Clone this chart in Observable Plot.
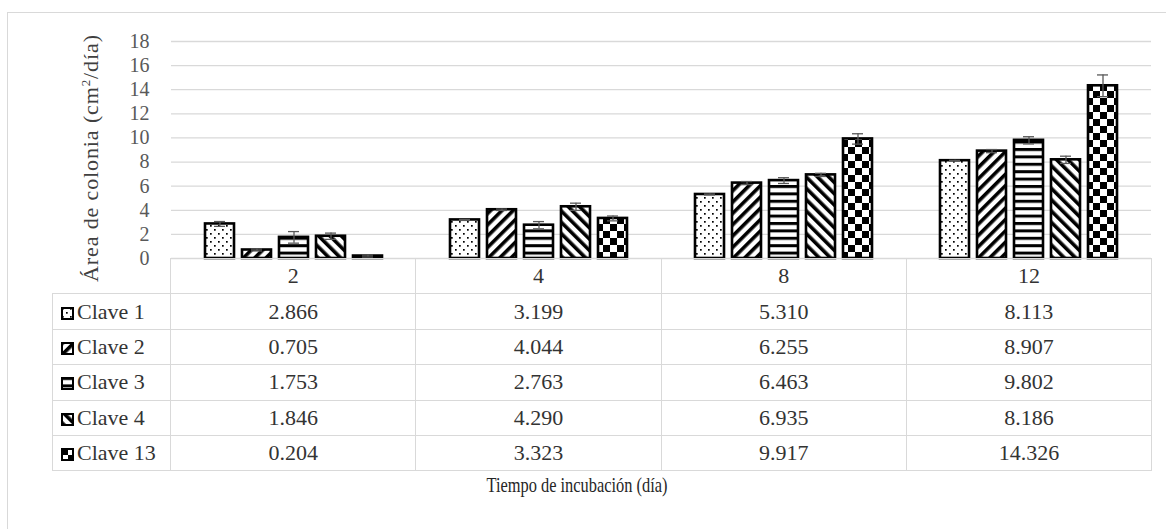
<!DOCTYPE html>
<html><head><meta charset="utf-8">
<script src="https://cdn.jsdelivr.net/npm/d3@7"></script>
<script src="https://cdn.jsdelivr.net/npm/@observablehq/plot@0.6"></script>
<style>
html,body{margin:0;padding:0;background:#fff;width:1166px;height:529px;overflow:hidden;font-family:'Liberation Serif','Times New Roman',Times,serif;}
#wrap{position:relative;width:1166px;height:529px;overflow:hidden;}
#frame{position:absolute;left:7px;top:12px;width:1250px;height:650px;border:1.5px solid #d9d9d9;box-sizing:border-box;}
#chart{position:absolute;left:0;top:0;}
#defs{position:absolute;left:0;top:0;width:0;height:0;}
#tbl{position:absolute;left:52px;top:258px;border-collapse:collapse;table-layout:fixed;width:1099px;font-size:22px;color:#333;font-family:'Liberation Serif','Times New Roman',Times,serif;}
#tbl td{border:1px solid #d9d9d9;padding:0;text-align:center;line-height:1;font-family:'Liberation Serif','Times New Roman',Times,serif;}
#tbl tr{height:35.4px;}
#tbl td.blank{border-top:none;border-left:none;}
#tbl td.lab{text-align:left;padding-left:8px;white-space:nowrap;}
#tbl td.lab svg{vertical-align:-1px;margin-right:3px;}
#titles{position:absolute;left:0;top:0;pointer-events:none;}
#chart svg text{font-family:'Liberation Serif','Times New Roman',Times,serif;}
</style></head>
<body>
<div id="wrap">
  <div id="frame"></div>
  <svg id="defs" width="0" height="0">
    <defs>
      <pattern id="pat1" patternUnits="userSpaceOnUse" width="8" height="8">
        <rect width="8" height="8" fill="#fff"/>
        <rect x="1" y="1" width="1.7" height="1.7" fill="#000"/>
        <rect x="5" y="5" width="1.7" height="1.7" fill="#000"/>
      </pattern>
      <pattern id="pat2" patternUnits="userSpaceOnUse" width="8" height="8" patternTransform="rotate(45)">
        <rect width="8" height="8" fill="#fff"/>
        <rect x="0" y="0" width="3.6" height="8" fill="#000"/>
      </pattern>
      <pattern id="pat3" patternUnits="userSpaceOnUse" width="8" height="7.4">
        <rect width="8" height="7.4" fill="#fff"/>
        <rect x="0" y="0" width="8" height="3" fill="#000"/>
      </pattern>
      <pattern id="pat4" patternUnits="userSpaceOnUse" width="8" height="8" patternTransform="rotate(-45)">
        <rect width="8" height="8" fill="#fff"/>
        <rect x="0" y="0" width="3.6" height="8" fill="#000"/>
      </pattern>
      <pattern id="pat5" patternUnits="userSpaceOnUse" width="14" height="14">
        <rect width="14" height="14" fill="#fff"/>
        <rect x="0" y="0" width="7" height="7" fill="#000"/>
        <rect x="7" y="7" width="7" height="7" fill="#000"/>
      </pattern>
    </defs>
  </svg>
  <div id="chart"></div>
  <table id="tbl"></table>
  <svg id="titles" width="1166" height="529"></svg>
</div>
<script>
// ---- data ----
const categories = [2, 4, 8, 12];
const series = ["Clave 1", "Clave 2", "Clave 3", "Clave 4", "Clave 13"];
const clave1  = [2.866, 3.199, 5.310, 8.113];
const clave2  = [0.705, 4.044, 6.255, 8.907];
const clave3  = [1.753, 2.763, 6.463, 9.802];
const clave4  = [1.846, 4.290, 6.935, 8.186];
const clave13 = [0.204, 3.323, 9.917, 14.326];
const err1  = [0.20, 0.04, 0.04, 0.03];
const err2  = [0.08, 0.06, 0.13, 0.13];
const err3  = [0.48, 0.30, 0.24, 0.30];
const err4  = [0.26, 0.30, 0.13, 0.30];
const err13 = [0.08, 0.20, 0.43, 0.90];
const yTicks = [0, 2, 4, 6, 8, 10, 12, 14, 16, 18];
const patterns = ["url(#pat1)", "url(#pat2)", "url(#pat3)", "url(#pat4)", "url(#pat5)"];
const xTitle = "Tiempo de incubación (día)";

const values = [clave1, clave2, clave3, clave4, clave13];
const errors = [err1, err2, err3, err4, err13];
const data = [];
categories.forEach((c, j) => series.forEach((s, i) => data.push({cat: c, series: s, value: values[i][j], err: errors[i][j]})));

const serif = "'Liberation Serif', 'Times New Roman', Times, serif";

const chart = Plot.plot({
  width: 1166, height: 262,
  marginLeft: 170, marginRight: 15, marginTop: 41, marginBottom: 4,
  style: {fontFamily: serif, fontSize: "20px", background: "transparent", overflow: "visible"},
  fx: {domain: categories, padding: 0, axis: null},
  x: {domain: series, paddingInner: 0.223, paddingOuter: 0.875, axis: null},
  y: {domain: [0, 18]},
  color: {domain: series, range: patterns},
  marks: [
    Plot.ruleY(yTicks, {stroke: "#d9d9d9", strokeWidth: 1.3}),
    Plot.axisY(yTicks, {tickSize: 0, tickPadding: 22, fill: "#595959", label: null, fontSize: 20, fontFamily: serif}),
    Plot.barY(data, {fx: "cat", x: "series", y: "value", fill: "series", stroke: "#000", strokeWidth: 2.6}),
    Plot.ruleX(data, {fx: "cat", x: "series", y1: d => d.value - d.err, y2: d => d.value + d.err, stroke: "#595959", strokeWidth: 1.3}),
    Plot.tickY(data, {fx: "cat", x: "series", y: d => d.value + d.err, insetLeft: 9, insetRight: 9, stroke: "#595959", strokeWidth: 1.3}),
    Plot.tickY(data, {fx: "cat", x: "series", y: d => d.value - d.err, insetLeft: 9, insetRight: 9, stroke: "#595959", strokeWidth: 1.3})
  ]
});
document.getElementById("chart").appendChild(chart);

// ---- data table ----
const tbl = d3.select("#tbl");
const cg = tbl.append("colgroup");
cg.append("col").style("width", "118px");
categories.forEach(() => cg.append("col").style("width", "245.25px"));
const hr = tbl.append("tr");
hr.append("td").attr("class", "blank");
categories.forEach(c => hr.append("td").text(String(c)));
series.forEach((s, i) => {
  const tr = tbl.append("tr");
  const lab = tr.append("td").attr("class", "lab");
  const ic = lab.append("svg").attr("width", 13).attr("height", 13);
  ic.append("rect").attr("x", 1).attr("y", 1).attr("width", 11).attr("height", 11)
    .attr("fill", patterns[i]).attr("stroke", "#000").attr("stroke-width", 2);
  lab.append("span").text(s);
  values[i].forEach(v => tr.append("td").text(v.toFixed(3)));
});

// ---- axis titles ----
const t = d3.select("#titles");
const yt = t.append("text")
  .attr("transform", "translate(98,158.5) rotate(-90)")
  .attr("text-anchor", "middle")
  .attr("font-family", serif)
  .attr("font-size", 22).attr("fill", "#404040")
  .attr("textLength", 247).attr("lengthAdjust", "spacing");
yt.append("tspan").text("Área de colonia (cm");
yt.append("tspan").attr("font-size", 13).attr("dy", -8).text("2");
yt.append("tspan").attr("dy", 8).text("/día)");
t.append("text")
  .attr("x", 577).attr("y", 492)
  .attr("text-anchor", "middle")
  .attr("font-family", serif)
  .attr("font-size", 21).attr("fill", "#262626")
  .attr("textLength", 181).attr("lengthAdjust", "spacingAndGlyphs")
  .text(xTitle);
</script>
</body></html>
